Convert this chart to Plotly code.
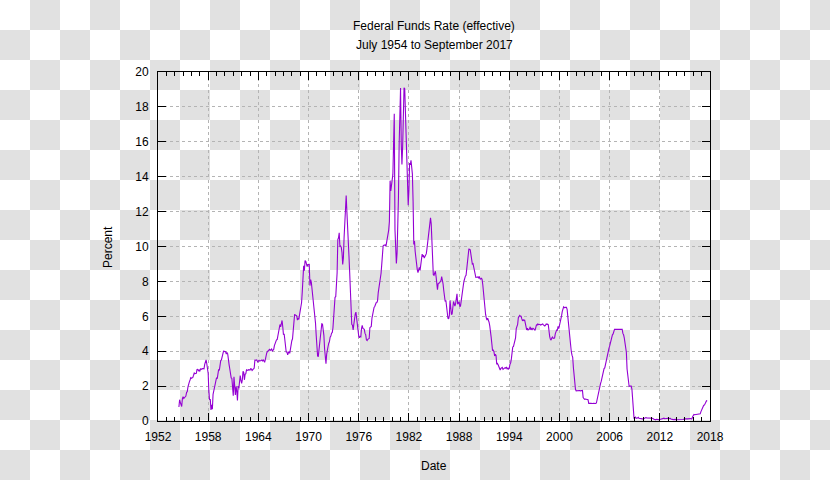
import plotly.graph_objects as go

# Effective federal funds rate, monthly, percent (July 1954 .. September 2017)
start_year = 1954
start_month = 7

fed_1950s = [
    0.80, 1.22, 1.07, 0.85, 0.83, 1.28,
    1.39, 1.29, 1.35, 1.43, 1.43, 1.64, 1.68, 1.96, 2.18, 2.24, 2.35, 2.48,
    2.45, 2.50, 2.50, 2.62, 2.75, 2.71, 2.75, 2.73, 2.95, 2.96, 2.88, 2.94,
    2.84, 3.00, 2.96, 3.00, 3.00, 3.00, 2.99, 3.24, 3.47, 3.50, 3.28, 2.98,
    2.72, 1.67, 1.20, 1.26, 0.63, 0.93, 0.68, 1.53, 1.76, 1.80, 2.27, 2.42,
    2.48, 2.43, 2.80, 2.96, 2.90, 3.39, 3.47, 3.50, 3.76, 3.98, 4.00, 3.99,
]
fed_1960s = [
    3.99, 3.97, 3.84, 3.92, 3.85, 3.32, 3.23, 2.98, 2.60, 2.47, 2.44, 1.98,
    1.45, 2.54, 2.02, 1.49, 1.98, 1.73, 1.17, 2.00, 1.88, 2.26, 2.61, 2.33,
    2.15, 2.37, 2.85, 2.78, 2.36, 2.68, 2.71, 2.93, 2.90, 2.90, 2.94, 2.93,
    2.92, 3.00, 2.98, 2.90, 3.00, 2.99, 3.02, 3.49, 3.48, 3.50, 3.48, 3.38,
    3.48, 3.48, 3.43, 3.47, 3.50, 3.50, 3.42, 3.50, 3.45, 3.36, 3.52, 3.85,
    3.90, 3.98, 4.04, 4.09, 4.10, 4.04, 4.09, 4.12, 4.01, 4.08, 4.10, 4.32,
    4.42, 4.60, 4.65, 4.67, 4.90, 5.17, 5.30, 5.53, 5.40, 5.53, 5.76, 5.40,
    4.94, 5.00, 4.53, 4.05, 3.94, 3.98, 3.79, 3.90, 3.99, 3.88, 4.13, 4.51,
    4.60, 4.71, 5.05, 5.76, 6.11, 6.07, 6.02, 6.03, 5.78, 5.91, 5.82, 6.02,
    6.30, 6.61, 6.79, 7.41, 8.67, 8.90, 8.61, 9.19, 9.15, 9.00, 8.85, 8.97,
]
fed_1970s = [
    8.98, 8.98, 7.76, 8.10, 7.95, 7.61, 7.21, 6.61, 6.29, 6.20, 5.60, 4.90,
    4.14, 3.72, 3.71, 4.15, 4.63, 4.91, 5.31, 5.57, 5.55, 5.20, 4.91, 4.14,
    3.50, 3.29, 3.83, 4.17, 4.27, 4.46, 4.55, 4.80, 4.87, 5.04, 5.06, 5.33,
    5.94, 6.58, 7.09, 7.12, 7.84, 8.49, 10.40, 10.50, 10.78, 10.01, 10.03, 9.95,
    9.65, 8.97, 9.35, 10.51, 11.31, 11.93, 12.92, 12.01, 11.34, 10.06, 9.45, 8.53,
    7.13, 6.24, 5.54, 5.49, 5.22, 5.55, 6.10, 6.14, 6.24, 5.82, 5.22, 5.20,
    4.87, 4.77, 4.84, 4.82, 5.29, 5.48, 5.31, 5.29, 5.25, 5.02, 4.95, 4.65,
    4.61, 4.68, 4.69, 4.73, 5.35, 5.39, 5.42, 5.90, 6.14, 6.47, 6.51, 6.56,
    6.70, 6.78, 6.79, 6.89, 7.36, 7.60, 7.81, 8.04, 8.45, 8.96, 9.76, 10.03,
    10.07, 10.06, 10.09, 10.01, 10.24, 10.29, 10.47, 10.94, 11.43, 13.77, 13.18, 13.78,
]
fed_1980s = [
    13.82, 14.13, 17.19, 17.61, 10.98, 9.47, 9.03, 9.61, 10.87, 12.81, 15.85, 18.90,
    19.08, 15.93, 14.70, 15.72, 18.52, 19.10, 19.04, 17.82, 15.87, 15.08, 13.31, 12.37,
    13.22, 14.78, 14.68, 14.94, 14.45, 14.15, 12.59, 10.12, 10.31, 9.71, 9.20, 8.95,
    8.68, 8.51, 8.77, 8.80, 8.63, 8.98, 9.37, 9.56, 9.45, 9.48, 9.34, 9.47,
    9.56, 9.59, 9.91, 10.29, 10.32, 11.06, 11.23, 11.64, 11.30, 9.99, 9.43, 8.38,
    8.35, 8.50, 8.58, 8.27, 7.97, 7.53, 7.88, 7.90, 7.92, 7.99, 8.05, 8.27,
    8.14, 7.86, 7.48, 6.99, 6.85, 6.92, 6.56, 6.17, 5.89, 5.85, 6.04, 6.91,
    6.43, 6.10, 6.13, 6.37, 6.85, 6.73, 6.58, 6.73, 7.22, 7.29, 6.69, 6.77,
    6.83, 6.58, 6.58, 6.87, 7.09, 7.51, 7.75, 8.01, 8.19, 8.30, 8.35, 8.76,
    9.12, 9.36, 9.85, 9.84, 9.81, 9.53, 9.24, 8.99, 9.02, 8.84, 8.55, 8.45,
]
fed_1990s = [
    8.23, 8.24, 8.28, 8.26, 8.18, 8.29, 8.15, 8.13, 8.20, 8.11, 7.81, 7.31,
    6.91, 6.25, 6.12, 5.91, 5.78, 5.90, 5.82, 5.66, 5.45, 5.21, 4.81, 4.43,
    4.03, 4.06, 3.98, 3.73, 3.82, 3.76, 3.25, 3.30, 3.22, 3.10, 3.09, 2.92,
    3.02, 3.03, 3.07, 2.96, 3.00, 3.04, 3.06, 3.03, 3.09, 2.99, 3.02, 2.96,
    3.05, 3.25, 3.34, 3.56, 4.01, 4.25, 4.26, 4.47, 4.73, 4.76, 5.29, 5.45,
    5.53, 5.92, 5.98, 6.05, 6.01, 6.00, 5.85, 5.74, 5.80, 5.76, 5.80, 5.60,
    5.56, 5.22, 5.31, 5.22, 5.24, 5.27, 5.40, 5.22, 5.30, 5.24, 5.31, 5.29,
    5.25, 5.19, 5.39, 5.51, 5.50, 5.56, 5.52, 5.54, 5.54, 5.50, 5.52, 5.50,
    5.56, 5.51, 5.49, 5.45, 5.49, 5.56, 5.54, 5.55, 5.51, 5.07, 4.83, 4.68,
    4.63, 4.76, 4.81, 4.74, 4.74, 4.76, 4.99, 5.07, 5.22, 5.20, 5.42, 5.30,
]
fed_2000s = [
    5.45, 5.73, 5.85, 6.02, 6.27, 6.53, 6.54, 6.50, 6.52, 6.51, 6.51, 6.40,
    5.98, 5.49, 5.31, 4.80, 4.21, 3.97, 3.77, 3.65, 3.07, 2.49, 2.09, 1.82,
    1.73, 1.74, 1.73, 1.75, 1.75, 1.75, 1.73, 1.74, 1.75, 1.75, 1.34, 1.24,
    1.24, 1.26, 1.25, 1.26, 1.26, 1.22, 1.01, 1.03, 1.01, 1.01, 1.00, 0.98,
    1.00, 1.01, 1.00, 1.00, 1.00, 1.03, 1.26, 1.43, 1.61, 1.76, 1.93, 2.16,
    2.28, 2.50, 2.63, 2.79, 3.00, 3.04, 3.26, 3.50, 3.62, 3.78, 4.00, 4.16,
    4.29, 4.49, 4.59, 4.79, 4.94, 4.99, 5.24, 5.25, 5.25, 5.25, 5.25, 5.24,
    5.25, 5.26, 5.26, 5.25, 5.25, 5.25, 5.26, 5.02, 4.94, 4.76, 4.49, 4.24,
    3.94, 2.98, 2.61, 2.28, 1.98, 2.00, 2.01, 2.00, 1.81, 0.97, 0.39, 0.16,
    0.15, 0.22, 0.18, 0.15, 0.18, 0.21, 0.16, 0.16, 0.15, 0.12, 0.12, 0.12,
]
fed_2010s = [
    0.11, 0.13, 0.16, 0.20, 0.20, 0.18, 0.18, 0.19, 0.19, 0.19, 0.19, 0.18,
    0.17, 0.16, 0.14, 0.10, 0.09, 0.09, 0.07, 0.10, 0.08, 0.07, 0.08, 0.07,
    0.08, 0.10, 0.13, 0.14, 0.16, 0.16, 0.16, 0.13, 0.14, 0.16, 0.16, 0.16,
    0.14, 0.15, 0.14, 0.15, 0.11, 0.09, 0.09, 0.08, 0.08, 0.09, 0.08, 0.09,
    0.07, 0.07, 0.08, 0.09, 0.09, 0.10, 0.09, 0.09, 0.09, 0.09, 0.09, 0.12,
    0.11, 0.11, 0.11, 0.12, 0.12, 0.13, 0.13, 0.14, 0.14, 0.12, 0.12, 0.24,
    0.34, 0.38, 0.36, 0.37, 0.37, 0.38, 0.39, 0.40, 0.40, 0.40, 0.41, 0.54,
    0.65, 0.66, 0.79, 0.90, 0.91, 1.04, 1.15, 1.16, 1.15,
]

x_tick_values = [1952, 1958, 1964, 1970, 1976, 1982, 1988, 1994, 2000, 2006, 2012, 2018]
y_tick_values = [0, 2, 4, 6, 8, 10, 12, 14, 16, 18, 20]

title_line1 = "Federal Funds Rate (effective)"
title_line2 = "July 1954 to September 2017"
x_title = "Date"
y_title = "Percent"

rates = fed_1950s + fed_1960s + fed_1970s + fed_1980s + fed_1990s + fed_2000s + fed_2010s
dates = [start_year + (start_month - 1 + i) / 12.0 for i in range(len(rates))]

# ---- layout geometry (pixels) ----
W, H = 830, 480
L, R, T, B = 158, 710, 72, 421
pw, ph = R - L, B - T

def px_to_paper_x(px):
    return (px - L) / pw

def px_to_paper_y(py):
    return (B - py) / ph

# transparency checkerboard background
cell = 30
parts = []
for row in range(H // cell + 1):
    for col in range(W // cell + 1):
        if (row + col) % 2 == 1:
            x0 = px_to_paper_x(col * cell)
            x1 = px_to_paper_x(col * cell + cell)
            y0 = px_to_paper_y(row * cell)
            y1 = px_to_paper_y(row * cell + cell)
            parts.append(f"M{x0:.5f},{y0:.5f}H{x1:.5f}V{y1:.5f}H{x0:.5f}Z")

font_family = "Liberation Sans, Arial, sans-serif"

fig = go.Figure()
fig.add_trace(go.Scatter(
    x=dates, y=rates, mode="lines",
    line=dict(color="#9400d3", width=1.1),
    showlegend=False, hoverinfo="x+y",
))

fig.update_layout(
    width=W, height=H,
    margin=dict(l=L, r=W - R, t=T, b=H - B, pad=0),
    paper_bgcolor="white",
    plot_bgcolor="rgba(0,0,0,0)",
    font=dict(family=font_family, size=12, color="black"),
    shapes=[dict(
        type="path", xref="paper", yref="paper", layer="below",
        path="".join(parts), fillcolor="#e1e1e1", line=dict(width=0),
    )],
    annotations=[
        dict(text=title_line1, x=0.5, y=px_to_paper_y(26), xref="paper", yref="paper",
             showarrow=False, xanchor="center", yanchor="middle", font=dict(size=12)),
        dict(text=title_line2, x=0.5, y=px_to_paper_y(45), xref="paper", yref="paper",
             showarrow=False, xanchor="center", yanchor="middle", font=dict(size=12)),
        dict(text=x_title, x=0.5, y=px_to_paper_y(466), xref="paper", yref="paper",
             showarrow=False, xanchor="center", yanchor="middle", font=dict(size=12)),
        dict(text=y_title, x=px_to_paper_x(108), y=px_to_paper_y(247), xref="paper", yref="paper",
             showarrow=False, xanchor="center", yanchor="middle", textangle=-90, font=dict(size=12)),
    ],
)

fig.update_xaxes(
    range=[1952, 2018], tickvals=x_tick_values, ticktext=[str(v) for v in x_tick_values],
    showline=True, linecolor="black", linewidth=1, mirror="ticks",
    ticks="inside", ticklen=8, tickcolor="black", tickwidth=1,
    showgrid=True, gridcolor="#b4b4b4", griddash="3px,3px", gridwidth=1,
    zeroline=False, tickfont=dict(size=12), ticklabelstandoff=5,
    minor=dict(dtick=1, tick0=1952, ticks="inside", ticklen=4, tickcolor="black", showgrid=False),
)
fig.update_yaxes(
    range=[0, 20], tickvals=y_tick_values, ticktext=[str(v) for v in y_tick_values],
    showline=True, linecolor="black", linewidth=1, mirror="ticks",
    ticks="inside", ticklen=8, tickcolor="black", tickwidth=1,
    showgrid=True, gridcolor="#b4b4b4", griddash="3px,3px", gridwidth=1,
    zeroline=False, tickfont=dict(size=12), ticklabelstandoff=6,
)

fig.write_html(
    "out.html",
    config={"displayModeBar": False},
    post_script="document.body.style.margin='0';document.body.style.overflow='hidden';",
)
